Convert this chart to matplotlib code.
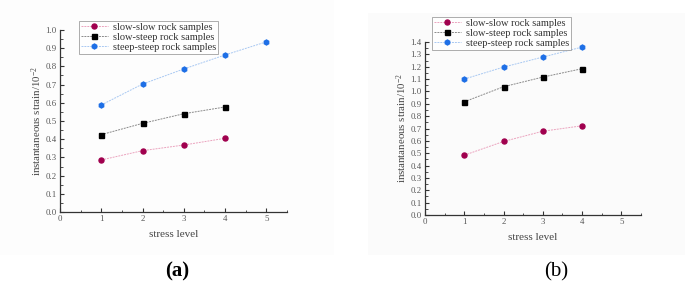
import matplotlib
matplotlib.use("Agg")
import matplotlib.pyplot as plt
from matplotlib.ticker import MultipleLocator
from matplotlib.patches import Rectangle

plt.rcParams["mathtext.fontset"] = "custom"
plt.rcParams["mathtext.rm"] = "Liberation Serif"
plt.rcParams["mathtext.it"] = "Liberation Serif:italic"
plt.rcParams["axes.unicode_minus"] = False

# ---- data ----
labels = ["slow-slow rock samples", "slow-steep rock samples", "steep-steep rock samples"]
a_x_ss = [1, 2, 3, 4]
a_ss = [0.286, 0.337, 0.368, 0.405]
a_x_st = [1, 2, 3, 4]
a_st = [0.425, 0.487, 0.540, 0.577]
a_x_tt = [1, 2, 3, 4, 5]
a_tt = [0.588, 0.703, 0.786, 0.863, 0.935]

b_x = [1, 2, 3, 4]
b_ss = [0.484, 0.595, 0.678, 0.722]
b_st = [0.916, 1.038, 1.116, 1.184]
b_tt = [1.100, 1.197, 1.278, 1.359]

xticks = [0, 1, 2, 3, 4, 5]

marker_colors = ["#A0004E", "#000000", "#1E6FE6"]
line_colors = ["#EBA3BE", "#8A8A8A", "#A8C8F2"]
markers = ["o", "s", "h"]

W, H = 685, 282
fig = plt.figure(figsize=(W / 100, H / 100), dpi=100)
fig.patch.set_facecolor("white")

# faint image backgrounds
fig.patches.append(Rectangle((0, 1 - 255 / H), 334 / W, 255 / H, transform=fig.transFigure,
                             facecolor="#fdfdfd", edgecolor="none", zorder=-10))
fig.patches.append(Rectangle((368 / W, 1 - 255 / H), (685 - 368) / W, (255 - 13) / H,
                             transform=fig.transFigure, facecolor="#fbfbfb", edgecolor="none", zorder=-10))

serif = "Liberation Serif"
tick_col = "#555555"


def style(ax, ymax, ystep):
    ax.set_facecolor("none")
    ax.set_xlim(0, 5.5)
    ax.set_ylim(0, ymax)
    ax.set_xticks(xticks)
    ax.xaxis.set_minor_locator(MultipleLocator(0.5))
    ax.yaxis.set_major_locator(MultipleLocator(ystep))
    ax.yaxis.set_minor_locator(MultipleLocator(ystep / 2))
    ax.yaxis.set_major_formatter(matplotlib.ticker.FormatStrFormatter("%.1f"))
    for s in ["top", "right"]:
        ax.spines[s].set_visible(False)
    for s in ["left", "bottom"]:
        ax.spines[s].set_linewidth(0.9)
        ax.spines[s].set_color("#333333")
    ax.tick_params(which="major", direction="in", length=3, width=0.8, color="#333333",
                   labelsize=6.3, labelcolor=tick_col, pad=2.5)
    ax.tick_params(which="minor", direction="in", length=1.8, width=0.6, color="#333333")
    for lab in ax.get_xticklabels() + ax.get_yticklabels():
        lab.set_family(serif)
    ax.set_xlabel("stress level", family=serif, fontsize=8, color="#444444", labelpad=5)
    ax.set_ylabel("instantaneous strain/10$^{-2}$", family=serif, fontsize=7.8,
                  color="#444444", labelpad=1)


def draw(ax, series):
    handles = []
    for (xs, ys), mc, lc, mk, lab in zip(series, marker_colors, line_colors, markers, labels):
        ax.plot(xs, ys, color=lc, linewidth=0.7, linestyle=(0, (2, 1)), zorder=2)
        ax.plot(xs, ys, linestyle="none", marker=mk, markersize=3.6,
                markerfacecolor=mc, markeredgecolor=mc, zorder=3)
        h, = ax.plot([], [], color=lc, linewidth=0.7, linestyle=(0, (2, 1)), marker=mk,
                     markersize=3.6, markerfacecolor=mc, markeredgecolor=mc, label=lab)
        handles.append(h)
    return handles


axa = fig.add_axes([60 / W, 1 - 212 / H, (287 - 60) / W, (212 - 30) / H])
ha = draw(axa, [(a_x_ss, a_ss), (a_x_st, a_st), (a_x_tt, a_tt)])
style(axa, 1.0, 0.1)

axb = fig.add_axes([425 / W, 1 - 215 / H, (641 - 425) / W, (215 - 42) / H])
hb = draw(axb, [(b_x, b_ss), (b_x, b_st), (b_x, b_tt)])
style(axb, 1.4, 0.1)

for hs, anchor in [(ha, (79 / W, 1 - 21 / H)), (hb, (432 / W, 1 - 17 / H))]:
    leg = fig.legend(handles=hs, loc="upper left", bbox_to_anchor=anchor,
                     prop={"family": serif, "size": 7.5}, frameon=True, fancybox=False,
                     handlelength=2.6, handletextpad=0.5, borderpad=0.15,
                     labelspacing=0.08, borderaxespad=0)
    leg.get_frame().set_edgecolor("#888888")
    leg.get_frame().set_linewidth(0.6)
    for t in leg.get_texts():
        t.set_color("#333333")

fig.text(177 / W, 1 - 271 / H, "(a)", family="Liberation Serif", fontweight="bold",
         fontsize=15, ha="center", va="center")
fig.text(556 / W, 1 - 272 / H, "(b)", family="Liberation Serif",
         fontsize=15, ha="center", va="center")

fig.savefig("out.png", dpi=100)
